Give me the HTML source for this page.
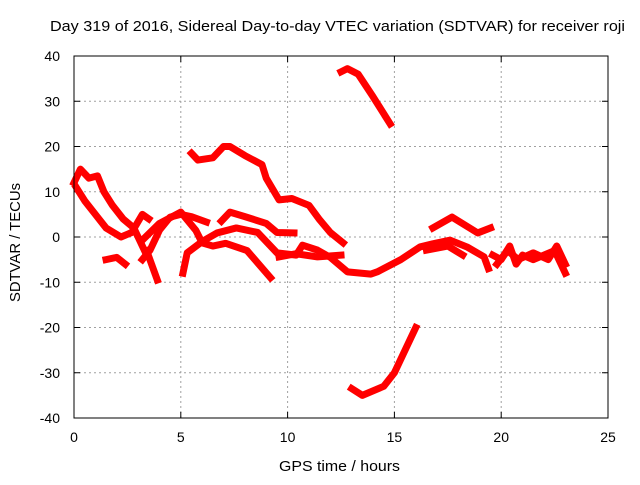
<!DOCTYPE html>
<html><head><meta charset="utf-8"><style>
body{margin:0;background:#fff}
svg text{font-family:"Liberation Sans",sans-serif;font-size:14px;fill:#000}
</style></head><body>
<svg id="chart" width="640" height="480" xmlns="http://www.w3.org/2000/svg">
<text x="50" y="31" textLength="575" lengthAdjust="spacingAndGlyphs" style="font-size:15px">Day 319 of 2016, Sidereal Day-to-day VTEC variation (SDTVAR) for receiver roji</text>
<text x="279" y="471" textLength="121" lengthAdjust="spacingAndGlyphs" style="font-size:15px">GPS time / hours</text>
<text transform="translate(20,302) rotate(-90)" textLength="119" lengthAdjust="spacingAndGlyphs" style="font-size:15px">SDTVAR / TECUs</text>
<g id="grid"></g>
<g id="marks"></g>
<rect x="74" y="56" width="534" height="362" fill="none" stroke="#000" stroke-width="1"/>
</svg>
<script>
const xTicks=[0,5,10,15,20,25];
const yTicks=[-40,-30,-20,-10,0,10,20,30,40];
const trackA=[[12.5,36.5],[12.8,37.2],[13.3,36],[14,31],[14.8,25]];
const trackB=[[13,-33.5],[13.5,-35],[14.5,-33],[15,-30],[15.5,-25],[16,-20]];
const trackC=[[5.5,18.5],[5.8,17],[6.5,17.5],[7,20],[7.3,20],[8,18],[8.8,16],[9,13],[9.6,8.2],[10.2,8.5],[11,7],[11.5,3.8],[12,1],[12.6,-1.3]];
const trackD=[[6.9,3.5],[7.3,5.5],[8,4.5],[9,3],[9.5,1],[10.3,0.9]];
const trackE=[[3.2,-5],[3.56,-2.9],[4,1.5],[4.5,4.4],[5,5],[5.5,4.5],[6.2,3.3]];
const trackF=[[5.1,-8],[5.3,-3.5],[6,-1],[6.7,0.9],[7.6,2],[8.6,1],[9.5,-3.5],[10.4,-4],[10.7,-1.8],[11.4,-2.9],[12,-4.5],[12.8,-7.7],[13.9,-8.2],[14.2,-7.7],[15.3,-5],[16.2,-2.2],[16.8,-1.5],[17.6,-0.7],[18.4,-2.2],[19.2,-4.4],[19.4,-7]];
const trackG=[[3.2,-0.7],[4,3],[5,5.5],[5.7,1.5],[6,-1.3],[6.5,-2],[7.1,-1.4],[8.1,-3],[9.2,-9]];
const trackH=[[3.4,-3],[3.9,-9.5]];
const trackI=[[9.6,-4.4],[10.4,-3.7],[11.4,-4.4],[12.5,-4]];
const trackJ=[[0,12],[0.3,15],[0.7,13],[1.1,13.5],[1.4,10],[1.8,7],[2.3,4],[2.8,2],[3.1,-1],[3.3,-3]];
const trackK=[[0.1,11],[0.5,8],[1,5],[1.5,2],[2.2,0],[2.7,1],[3.2,5],[3.5,4]];
const trackL=[[1.5,-5],[2,-4.5],[2.4,-6]];
const trackM=[[16.8,2],[17.7,4.4],[18.9,0.9],[19.5,2]];
const trackN=[[16.5,-2.9],[17.5,-2],[18.2,-4]];
const trackO=[[19.6,-4],[20,-5],[20.4,-2],[20.7,-6],[21,-4],[21.5,-5],[22,-4],[22.5,-3],[22.8,-6],[23,-8]];
const trackP=[[19.8,-6],[20.3,-3],[20.8,-5],[21.5,-3.5],[22.2,-5],[22.6,-2],[23,-6]];
const tracks=[trackA,trackB,trackC,trackD,trackE,trackF,trackG,trackH,trackI,trackJ,trackK,trackL,trackM,trackN,trackO,trackP];
const X=h=>74+h*534/25, Y=v=>237-v*362/80;
const NS="http://www.w3.org/2000/svg";
const grid=document.getElementById('grid'), marks=document.getElementById('marks'), svg=document.getElementById('chart');
function mk(t,a,p){const e=document.createElementNS(NS,t);for(const k in a)e.setAttribute(k,a[k]);p.appendChild(e);return e;}
xTicks.forEach(t=>{const x=X(t);
 if(t>0&&t<25){const l=mk('line',{x1:x,x2:x,y1:56,y2:418,stroke:'#a0a0a0','stroke-dasharray':'2,3'},grid);
 
 }
 mk('line',{x1:x,x2:x,y1:418,y2:412,stroke:'#000'},grid);mk('line',{x1:x,x2:x,y1:56,y2:62,stroke:'#000'},grid);
 const tx=mk('text',{x:x,y:442,'text-anchor':'middle'},svg);tx.textContent=t;
 
 });
yTicks.forEach(t=>{const y=Y(t);
 if(t>-40&&t<40){const l=mk('line',{x1:74,x2:608,y1:y,y2:y,stroke:'#a0a0a0','stroke-dasharray':'2,3'},grid);
 
 }
 mk('line',{x1:74,x2:80,y1:y,y2:y,stroke:'#000'},grid);mk('line',{x1:608,x2:602,y1:y,y2:y,stroke:'#000'},grid);
 const tx=mk('text',{x:60,y:y+5,'text-anchor':'end'},svg);tx.textContent=t;
 
 });
tracks.forEach(tr=>{
 const p=mk('polyline',{points:tr.map(d=>X(d[0])+','+Y(d[1])).join(' '),fill:'none',stroke:'#ff0000','stroke-width':7,'stroke-linejoin':'round','stroke-linecap':'square'},marks);
 
 
});
</script>
</body></html>
